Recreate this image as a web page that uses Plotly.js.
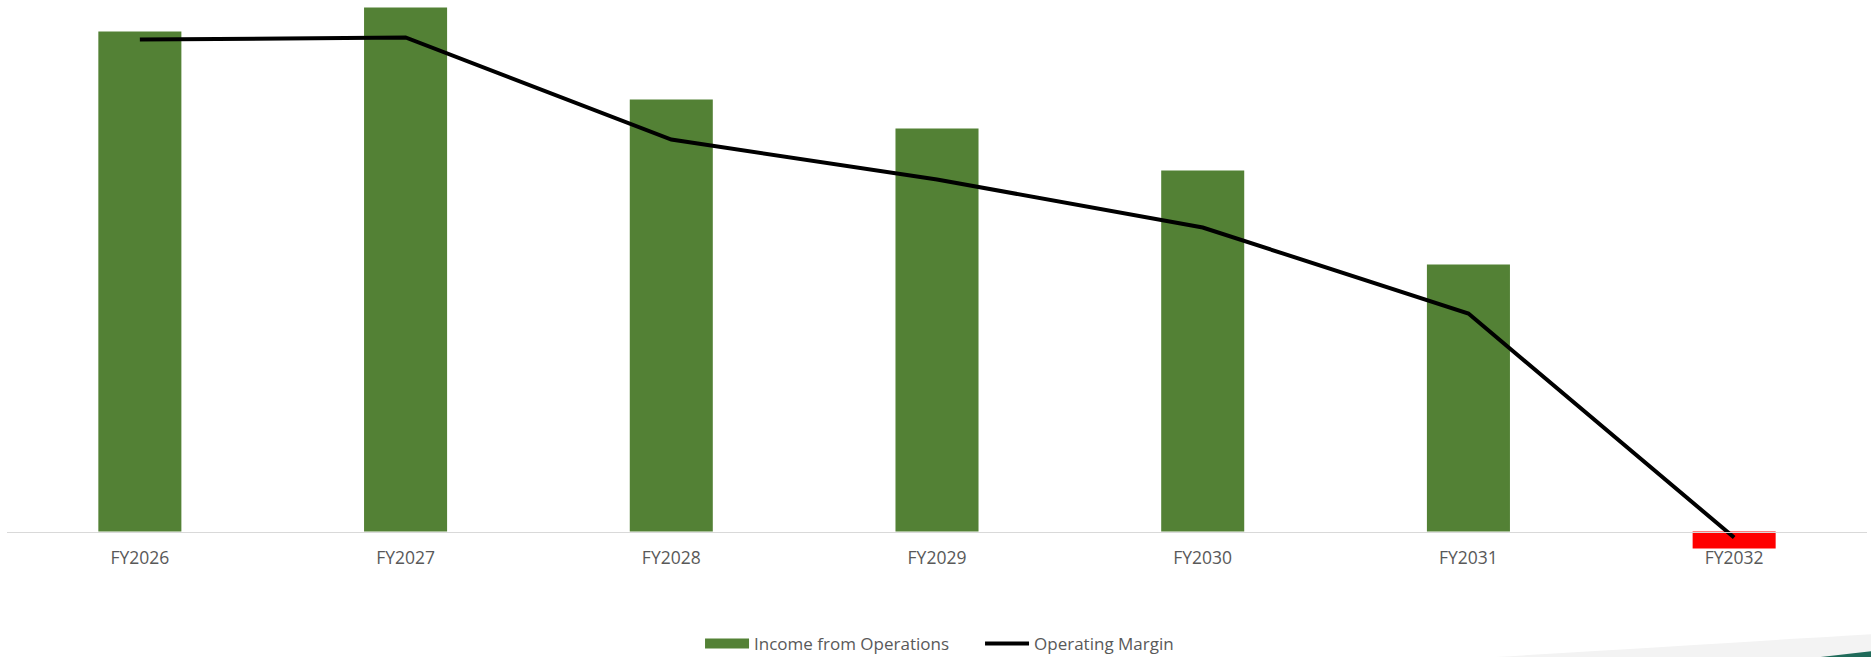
<!DOCTYPE html>
<html>
<head>
<meta charset="utf-8">
<script src="https://cdn.plot.ly/plotly-3.0.1.min.js"></script>
<style>html,body{margin:0;padding:0;background:#fff;}#chart{width:1871px;height:657px;}</style>
</head>
<body>
<div id="chart"></div>
<script>
// Data (Income from Operations in $M, Operating Margin in %)
var categories = ["FY2026", "FY2027", "FY2028", "FY2029", "FY2030", "FY2031", "FY2032"];
var incomeFromOperations = [1000, 1048, 864, 806, 722, 534, -34];
var operatingMargin = [24.6, 24.7, 19.6, 17.6, 15.2, 10.9, -0.3];

var GREEN = "#538135";
var RED = "#FF0000";
var barColors = incomeFromOperations.map(function (v) { return v < 0 ? RED : GREEN; });

var yRange = [-41, 1053];
var y2Range = [-1.025, 26.325];
var zeroPos = (0 - yRange[0]) / (yRange[1] - yRange[0]);

var traces = [
  {
    type: "bar",
    name: "Income from Operations",
    x: categories,
    y: incomeFromOperations,
    width: 0.3125,
    marker: { color: barColors, line: { width: 0 } },
    showlegend: false,
    hoverinfo: "skip"
  },
  {
    // legend entry for the bars (wide swatch like the original)
    type: "scatter",
    mode: "lines",
    name: "Income from Operations",
    x: categories,
    y: categories.map(function () { return null; }),
    line: { color: GREEN, width: 11 },
    hoverinfo: "skip"
  },
  {
    type: "scatter",
    mode: "lines",
    name: "Operating Margin",
    x: categories,
    y: operatingMargin,
    yaxis: "y2",
    line: { color: "#000000", width: 4, shape: "linear" },
    hoverinfo: "skip"
  }
];

var layout = {
  width: 1871,
  height: 657,
  margin: { l: 7, r: 4, t: 5, b: 105, autoexpand: false },
  paper_bgcolor: "#ffffff",
  plot_bgcolor: "#ffffff",
  font: { family: "Open Sans, Liberation Sans, sans-serif", color: "#595959", size: 17 },
  showlegend: true,
  legend: {
    orientation: "h",
    x: 0.3726, xanchor: "left",
    y: -0.168, yanchor: "middle",
    font: { size: 17, color: "#595959" },
    itemwidth: 44,
    entrywidth: 221,
    entrywidthmode: "pixels",
    traceorder: "normal"
  },
  bargap: 0.6875,
  xaxis: {
    type: "category",
    anchor: "free",
    position: zeroPos,
    showline: true,
    linecolor: "#d9d9d9",
    linewidth: 1.5,
    showgrid: false,
    zeroline: false,
    ticks: "outside",
    ticklen: 10,
    tickcolor: "rgba(0,0,0,0)",
    tickfont: { size: 17.5, color: "#595959" },
    fixedrange: true
  },
  yaxis: {
    range: yRange,
    showgrid: false,
    zeroline: false,
    showticklabels: false,
    showline: false,
    fixedrange: true
  },
  yaxis2: {
    range: y2Range,
    overlaying: "y",
    side: "right",
    showgrid: false,
    zeroline: false,
    showticklabels: false,
    showline: false,
    fixedrange: true
  },
  shapes: [
    {
      type: "path", xref: "paper", yref: "paper", layer: "below",
      path: "M 0.80 -0.192 Q 0.93 -0.165 1.003 -0.15 L 1.003 -0.192 Z",
      fillcolor: "#f3f3f3", line: { width: 0 }
    },
    {
      type: "path", xref: "paper", yref: "paper", layer: "above",
      path: "M 0.975 -0.192 Q 0.99 -0.186 1.003 -0.181 L 1.003 -0.192 Z",
      fillcolor: "#1f6b5a", line: { width: 0 }
    }
  ]
};

Plotly.newPlot("chart", traces, layout, { displayModeBar: false, staticPlot: true });
</script>
</body>
</html>
